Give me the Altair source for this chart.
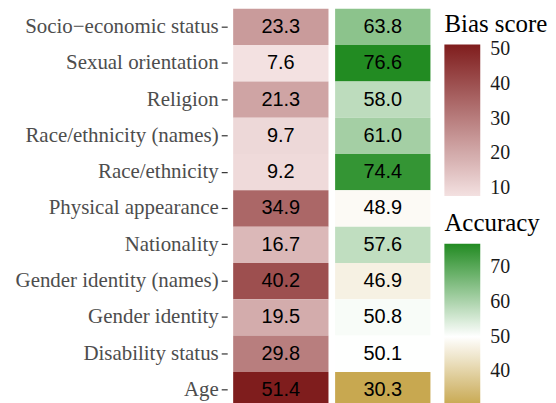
import altair as alt
import pandas as pd

categories = ["Socio−economic status", "Sexual orientation", "Religion",
              "Race/ethnicity (names)", "Race/ethnicity", "Physical appearance",
              "Nationality", "Gender identity (names)", "Gender identity",
              "Disability status", "Age"]
bias = [23.3, 7.6, 21.3, 9.7, 9.2, 34.9, 16.7, 40.2, 19.5, 29.8, 51.4]
accuracy = [63.8, 76.6, 58.0, 61.0, 74.4, 48.9, 57.6, 46.9, 50.8, 50.1, 30.3]

rows = []
for c, b, a in zip(categories, bias, accuracy):
    rows.append({"category": c, "metric": "bias", "value": b})
    rows.append({"category": c, "metric": "acc", "value": a})
df = pd.DataFrame(rows)
df["label"] = df["value"].map(lambda v: f"{v:.1f}")

SERIF = "Liberation Serif"

x = alt.X("metric:N", sort=["bias", "acc"], axis=None,
          scale=alt.Scale(paddingInner=0.065, paddingOuter=0))
y = alt.Y("category:N", sort=categories, title=None,
          scale=alt.Scale(paddingInner=0, paddingOuter=0),
          axis=alt.Axis(domain=False, ticks=True, tickSize=6, tickColor="#333333",
                        tickWidth=1.2, offset=6, labelPadding=3, labelLimit=400,
                        minExtent=220,
                        labelFont=SERIF, labelFontSize=21,
                        labelColor="#4d4d4d"))

base = alt.Chart(df).encode(x=x, y=y)

leg_common = dict(titleFont=SERIF, titleFontSize=25, titleFontWeight="normal",
                  titleColor="black", labelFont=SERIF, labelFontSize=20,
                  labelColor="#1a1a1a", gradientThickness=36, labelOffset=10,
                  titlePadding=8, padding=0, orient="none", legendX=212)

bias_rect = base.transform_filter(alt.datum.metric == "bias").mark_rect().encode(
    color=alt.Color("value:Q", title="Bias score",
                    scale=alt.Scale(domain=[7.6, 51.4], range=["#f3e1e1", "#7f1d1d"],
                                    interpolate="rgb"),
                    legend=alt.Legend(values=[10, 20, 30, 40, 50], gradientLength=152,
                                      legendY=3, **leg_common))
)
acc_rect = base.transform_filter(alt.datum.metric == "acc").mark_rect().encode(
    color=alt.Color("value:Q", title="Accuracy",
                    scale=alt.Scale(domain=[30.3, 50, 76.6],
                                    range=["#c8a850", "#ffffff", "#228b22"],
                                    interpolate="rgb"),
                    legend=alt.Legend(values=[40, 50, 60, 70], gradientLength=162,
                                      legendY=203, **leg_common))
)
text = base.mark_text(font="Liberation Sans", fontSize=20, color="black").encode(
    text="label:N")

chart = alt.layer(bias_rect, acc_rect, text).resolve_scale(color="independent").properties(
    width=198, height=401, padding={"left": 0, "top": 0, "right": 0, "bottom": 0}
).configure_view(stroke=None).configure_legend(
    labelFont=SERIF, titleFont=SERIF
)

chart.save("out.html", embed_options={"renderer": "svg", "actions": False})
